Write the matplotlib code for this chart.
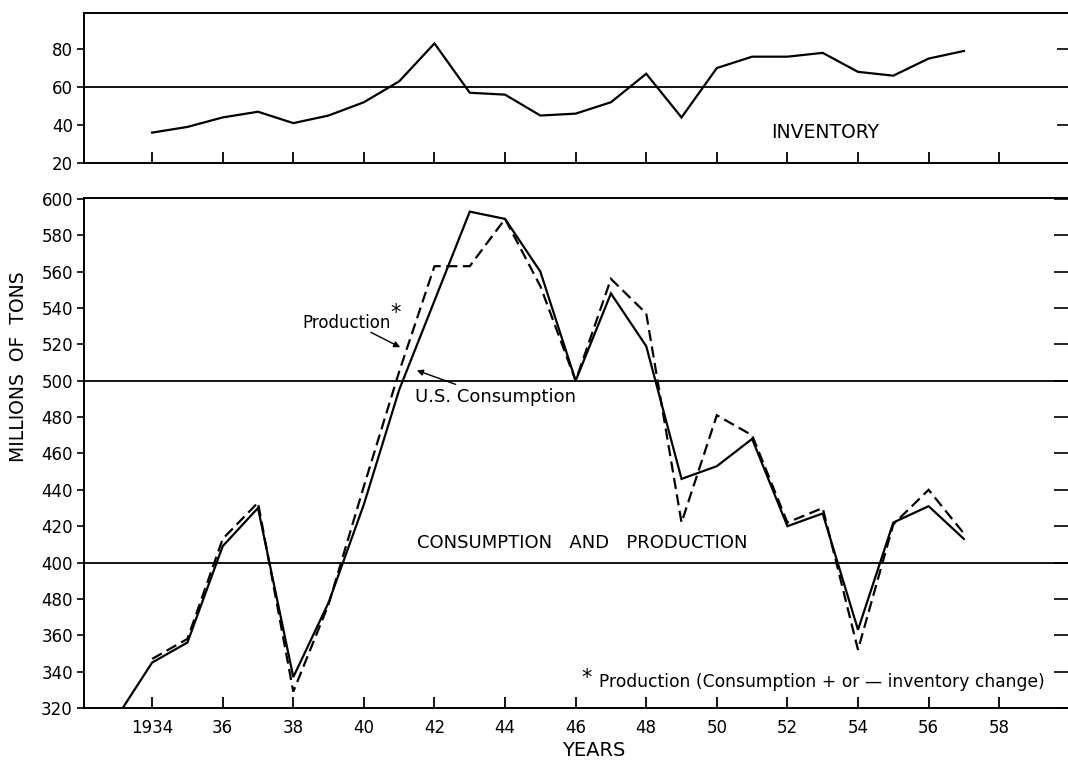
import matplotlib
matplotlib.use("Agg")
import matplotlib.pyplot as plt
import numpy as np

plt.rcParams['font.family'] = ['DejaVu Sans']

# annual figures, millions of tons
years = list(range(1934, 1958))
inventory = [36, 39, 44, 47, 41, 45, 52, 63, 83, 57, 56, 45,
             46, 52, 67, 44, 70, 76, 76, 78, 68, 66, 75, 79]

cons_years = list(range(1933, 1958))
consumption = [315, 345, 356, 409, 430, 337, 378, 432, 495, 544, 593, 589, 560,
               500, 548, 519, 446, 453, 468, 420, 427, 363, 422, 431, 413]

production = [347, 358, 413, 433, 329, 377, 442, 505, 563, 563, 589, 552,
              500, 556, 537, 422, 481, 470, 422, 430, 352, 421, 440, 416]

xtick_years = list(range(1934, 1959, 2))
xtick_labels = ['1934', '36', '38', '40', '42', '44', '46', '48', '50', '52', '54', '56', '58']

inv_ticks = [20, 40, 60, 80]
main_ticks = list(range(320, 601, 20))
# the printed scale repeats "480" where 380 belongs
main_labels = ['320', '340', '360', '480', '400', '420', '440', '460',
               '480', '500', '520', '540', '560', '580', '600']

W, H = 1068, 760
fig = plt.figure(figsize=(W / 100, H / 100), dpi=100)

left = 84 / W
ax1 = fig.add_axes([left, 1 - 163 / H, 1 - left, (163 - 13) / H])
ax2 = fig.add_axes([left, 1 - 708 / H, 1 - left, (708 - 198) / H])

xlim = (1932.07, 1959.95)

def style(ax):
    ax.set_xlim(*xlim)
    for s in ('left', 'bottom', 'top'):
        ax.spines[s].set_linewidth(1.4)
    ax.spines['right'].set_visible(False)
    ax.tick_params(axis='x', direction='in', length=8, width=1.3, top=False)
    ax.tick_params(axis='y', direction='out', length=5, width=1.2,
                   labelsize=12, pad=3)
    ax.set_xticks(xtick_years)

# inventory panel
style(ax1)
ax1.set_ylim(20, 99)
ax1.set_yticks(inv_ticks)
ax1.set_yticklabels([str(v) for v in inv_ticks])
ax1.tick_params(axis='x', labelbottom=False)
ax1.axhline(60, color='black', lw=1.3)
ax1.plot(years, inventory, color='black', lw=1.6, solid_joinstyle='miter')
ax1.text(1953.07, 35.8, 'INVENTORY', ha='center', va='center', fontsize=13.5)
ax1r = ax1.twinx()
ax1r.set_ylim(20, 99)
ax1r.set_yticks([40, 80])
ax1r.tick_params(axis='y', direction='in', length=8, width=1.2, labelright=False)
for s in ax1r.spines.values():
    s.set_visible(False)

# consumption and production panel
style(ax2)
ax2.set_ylim(320, 600.5)
ax2.set_yticks(main_ticks)
ax2.set_yticklabels(main_labels)
ax2.set_xticklabels(xtick_labels, fontsize=12)
ax2.tick_params(axis='x', pad=8)
ax2.axhline(500, color='black', lw=1.3)
ax2.axhline(400, color='black', lw=1.3)
ax2.plot(cons_years, consumption, color='black', lw=1.6, solid_joinstyle='miter')
ax2.plot(years, production, color='black', lw=1.6, linestyle=(0, (5, 2.5)),
         dash_joinstyle='miter')
ax2r = ax2.twinx()
ax2r.set_ylim(320, 600.5)
ax2r.set_yticks(main_ticks)
ax2r.tick_params(axis='y', direction='in', length=10, width=1.2, labelright=False)
for s in ax2r.spines.values():
    s.set_visible(False)

arrow = dict(arrowstyle='-|>', color='black', lw=1.0, mutation_scale=9,
             shrinkA=0, shrinkB=0)
ax2.text(1938.25, 532, 'Production', ha='left', va='center', fontsize=12)
ax2.text(1940.75, 537.5, '*', ha='left', va='center', fontsize=15)
ax2.annotate('', xy=(1941.03, 518.4), xytext=(1940.2, 526.6), arrowprops=arrow)
ax2.text(1941.45, 491, 'U.S. Consumption', ha='left', va='center', fontsize=13)
ax2.annotate('', xy=(1941.5, 505.7), xytext=(1942.6, 498), arrowprops=arrow)

ax2.text(1946.2, 410.7, 'CONSUMPTION   AND   PRODUCTION', ha='center',
         va='center', fontsize=13)
ax2.text(1946.15, 336.5, '*', ha='left', va='center', fontsize=15)
ax2.text(1946.65, 334.3, 'Production (Consumption + or \u2014 inventory change)',
         ha='left', va='center', fontsize=12.3)

fig.text(19 / W, 1 - 367 / H, 'MILLIONS  OF  TONS', rotation=90,
         ha='center', va='center', fontsize=13.5)
fig.text(594 / W, 1 - 750 / H, 'YEARS', ha='center', va='center', fontsize=14)

fig.savefig('out.png', dpi=100)
